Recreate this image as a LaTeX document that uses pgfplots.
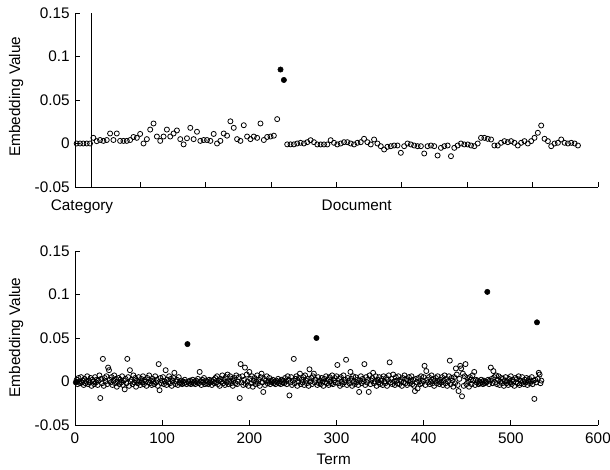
\documentclass[border=0pt]{standalone}
\usepackage{fontspec}
\setmainfont{Liberation Sans}
\usepackage{pgfplots}
\pgfplotsset{compat=1.18}

\pgfplotsset{
  panel/.style={
    scale only axis, width=392.25pt, height=130.5pt,
    axis lines*=left, axis line style={-,line width=0.6pt},
    tick align=inside, major tick length=3.75pt,
    tick style={black,line width=0.6pt},
    ymin=-0.05, ymax=0.15,
    ytick={-0.05,0,0.05,0.1,0.15},
    yticklabels={-0.05,0,0.05,0.1,0.15},
    ticklabel style={font=\fontsize{11.5}{13}\selectfont},
    clip=false,
  },
  opendot/.style={only marks, mark=o, mark size=1.9pt, mark options={line width=0.6pt, black}},
  fulldot/.style={only marks, mark=*, mark size=2pt, mark options={fill=black, draw=black}},
}

\begin{document}
\fontsize{11.5}{13}\selectfont
\begin{tikzpicture}
\useasboundingbox (0,0) rectangle (457.5pt,352.5pt);

% top panel: categories then documents
\begin{axis}[panel, at={(56.25pt,212.25pt)},
  xmin=0.5, xmax=157,
  xtick={0.5,20.0625,39.625,59.1875,78.75,98.3125,117.875,137.4375,157},
  xticklabels={,,,,,,,,}]
\addplot[black, line width=0.6pt] coordinates {(5.4,-0.05) (5.4,0.15)};
\addplot[opendot] coordinates {
(1,0) (2,0) (3,0) (4,0) (5,0)
(6,0.0065) (7,0.0027) (8,0.004) (9,0.003) (10,0.004) (11,0.0115) (12,0.004) (13,0.0115) (14,0.003) (15,0.003)
(16,0.003) (17,0.004) (18,0.0075) (19,0.0065) (20,0.011) (21,0.0) (22,0.005) (23,0.016) (24,0.023) (25,0.008)
(26,0.003) (27,0.008) (28,0.016) (29,0.008) (30,0.0115) (31,0.015) (32,0.005) (33,-0.001) (34,0.006) (35,0.018)
(36,0.005) (37,0.0135) (38,0.003) (39,0.004) (40,0.004) (41,0.003) (42,0.011) (43,0.0) (44,0.003) (45,0.0115)
(46,0.009) (47,0.0255) (48,0.018) (49,0.005) (50,0.003) (51,0.021) (52,0.008) (53,0.005) (54,0.008) (55,0.0065)
(56,0.023) (57,0.004) (58,0.0075) (59,0.008) (60,0.009) (61,0.028)
(64,-0.001) (65,-0.001) (66,-0.001) (67,0.0)
(68,0.0008) (69,0.0) (70,0.0015) (71,0.0038) (72,0.0015) (73,-0.0011) (74,-0.0011) (75,-0.0011) (76,-0.0011) (77,0.0038)
(78,0.0008) (79,-0.0011) (80,0.0) (81,0.0015) (82,0.0015) (83,0.0) (84,-0.0011) (85,0.0008) (86,0.0015) (87,0.0054)
(88,0.0015) (89,-0.0011) (90,0.0046) (91,0.0) (92,-0.0031) (93,-0.0069) (94,-0.0038) (95,-0.0031) (96,-0.0023) (97,-0.0023)
(98,-0.0107) (99,-0.0031) (100,0.0) (101,-0.0011) (102,-0.0023) (103,-0.0031) (104,-0.0031) (105,-0.0115) (106,-0.0031) (107,-0.0023)
(108,-0.0031) (109,-0.0138) (110,-0.005) (111,-0.0031) (112,-0.0023) (113,-0.0146) (114,-0.005) (115,-0.0023) (116,0.0) (117,-0.0011)
(118,-0.0011) (119,-0.0023) (120,-0.0031) (121,0.0) (122,0.0065) (123,0.0065) (124,0.0054) (125,0.0046) (126,-0.0023) (127,-0.0023)
(128,0.0008) (129,0.0027) (130,0.0015) (131,0.0027) (132,0.0008) (133,-0.0023) (134,0.0008) (135,0.0027) (136,0.0) (137,0.0027)
(138,0.0065) (139,0.0123) (140,0.0207) (141,0.0054) (142,0.0027) (143,-0.0031) (144,0.0) (145,0.0008) (146,0.0046) (147,0.0008)
(148,0.0) (149,0.0008) (150,0.0) (151,-0.0023)
};
\addplot[fulldot] coordinates {(62,0.085) (63,0.073)};
\end{axis}

% bottom panel: terms
\begin{axis}[panel, at={(56.25pt,33.75pt)},
  xmin=0, xmax=600,
  xtick={0,100,200,300,400,500,600},
  xticklabels={0,100,200,300,400,500,600},
  xticklabel style={yshift=-1.5pt}]
\addplot[opendot] coordinates {
(2,0.002) (3,-0.003) (4,0.004) (5,0.000) (6,-0.002) (7,0.005) (8,-0.001) (9,0.001) (10,-0.004)
(11,0.003) (12,-0.002) (13,0.000) (14,0.006) (15,-0.003) (16,0.001) (17,-0.001) (18,0.004) (19,-0.005) (20,0.002)
(21,0.000) (22,-0.003) (23,0.005) (24,-0.001) (25,0.002) (26,-0.004) (27,0.001) (28,0.007) (29,-0.019) (30,0.003)
(31,-0.002) (32,0.026) (33,-0.005) (34,0.004) (35,0.000) (36,0.006) (37,-0.003) (38,0.016) (39,0.013) (40,0.002)
(41,-0.001) (42,0.005) (43,-0.004) (44,0.001) (45,0.007) (46,-0.002) (47,0.003) (48,-0.006) (49,0.000) (50,0.004)
(51,-0.003) (52,0.002) (53,-0.001) (54,0.006) (55,-0.004) (56,0.001) (57,-0.009) (58,0.003) (59,-0.002) (60,0.026)
(61,0.005) (62,-0.005) (63,0.013) (64,0.000) (65,0.002) (66,-0.003) (67,0.007) (68,-0.001) (69,0.004) (70,-0.006)
(71,0.001) (72,-0.002) (73,0.005) (74,0.000) (75,-0.004) (76,0.003) (77,-0.001) (78,0.006) (79,-0.003) (80,0.002)
(81,0.000) (82,-0.005) (83,0.004) (84,-0.001) (85,0.007) (86,-0.002) (87,0.001) (88,-0.004) (89,0.003) (90,0.000)
(91,-0.003) (92,0.006) (93,-0.001) (94,0.002) (95,-0.005) (96,0.020) (97,-0.010) (98,0.004) (99,-0.002) (100,0.001)
(101,0.005) (102,-0.003) (103,0.000) (104,0.013) (105,-0.004) (106,0.002) (107,-0.001) (108,0.006) (109,-0.002) (110,0.003)
(111,-0.005) (112,0.001) (113,0.004) (114,0.010) (115,-0.003) (116,0.000) (117,0.002) (118,-0.004) (119,0.005) (120,-0.001)
(121,-0.002) (122,0.001) (123,-0.003) (124,0.000) (125,-0.002) (126,0.002) (127,-0.001) (128,-0.003) (130,0.000)
(131,-0.002) (132,0.001) (133,-0.003) (134,-0.001) (135,0.002) (136,-0.002) (137,0.000) (138,-0.003) (139,0.001) (140,-0.001)
(141,0.003) (142,-0.002) (143,0.011) (144,0.000) (145,-0.004) (146,0.002) (147,-0.001) (148,0.004) (149,-0.003) (150,0.001)
(151,-0.002) (152,0.000) (153,-0.003) (154,0.002) (155,-0.001) (156,0.001) (157,-0.004) (158,0.000) (159,0.002) (160,-0.002)
(161,0.004) (162,-0.001) (163,0.006) (164,-0.003) (165,0.001) (166,-0.005) (167,0.003) (168,0.000) (169,0.007) (170,-0.002)
(171,0.002) (172,-0.004) (173,0.005) (174,-0.001) (175,0.008) (176,-0.003) (177,0.000) (178,0.006) (179,-0.002) (180,0.003)
(181,-0.005) (182,0.001) (183,0.004) (184,-0.002) (185,0.007) (186,-0.003) (187,0.000) (188,0.005) (189,-0.019) (190,0.020)
(191,-0.001) (192,0.006) (193,-0.004) (194,0.002) (195,0.016) (196,-0.003) (197,0.008) (198,0.000) (199,-0.005) (200,0.011)
(201,0.003) (202,-0.002) (203,0.006) (204,-0.006) (205,0.001) (206,0.004) (207,-0.003) (208,0.000) (209,0.007) (210,-0.002)
(211,0.002) (212,-0.005) (213,0.005) (214,0.009) (215,-0.001) (216,-0.012) (217,0.003) (218,-0.004) (219,0.001) (220,0.006)
(221,-0.002) (222,0.000) (223,0.004) (224,-0.003) (225,0.001) (226,-0.001) (227,0.002) (228,-0.002) (229,0.000) (230,-0.003)
(231,0.001) (232,-0.001) (233,0.003) (234,-0.002) (235,0.000) (236,-0.003) (237,0.002) (238,-0.001) (239,0.001) (240,-0.002)
(241,0.004) (242,0.000) (243,-0.003) (244,0.006) (245,0.002) (246,-0.016) (247,-0.001) (248,0.005) (249,-0.004) (250,0.001)
(251,0.026) (252,-0.002) (253,0.003) (254,0.006) (255,-0.005) (256,0.000) (257,0.004) (258,0.009) (259,-0.003) (260,0.002)
(261,-0.001) (262,0.005) (263,-0.004) (264,0.007) (265,0.001) (266,-0.002) (267,0.003) (268,-0.005) (269,0.014) (270,0.000)
(271,0.004) (272,-0.003) (273,0.006) (274,0.009) (275,-0.001) (276,0.002) (278,-0.004) (279,0.005) (280,-0.002)
(281,0.001) (282,-0.003) (283,0.004) (284,0.000) (285,-0.005) (286,0.003) (287,-0.001) (288,0.006) (289,-0.002) (290,0.002)
(291,-0.004) (292,0.005) (293,0.000) (294,-0.002) (295,0.007) (296,-0.003) (297,0.001) (298,0.004) (299,-0.001) (300,0.006)
(301,0.019) (302,-0.002) (303,0.003) (304,-0.005) (305,0.005) (306,0.000) (307,-0.003) (308,0.007) (309,-0.001) (310,0.002)
(311,0.025) (312,-0.004) (313,0.004) (314,0.001) (315,-0.002) (316,0.011) (317,0.003) (318,-0.005) (319,0.006) (320,0.000)
(321,-0.003) (322,0.005) (323,-0.001) (324,0.002) (325,-0.004) (326,-0.012) (327,0.001) (328,0.006) (329,-0.002) (330,0.003)
(331,0.000) (332,0.020) (333,-0.004) (334,0.005) (335,-0.001) (336,0.002) (337,-0.012) (338,0.007) (339,-0.003) (340,0.001)
(341,0.004) (342,0.010) (343,-0.002) (344,0.000) (345,0.006) (346,-0.005) (347,0.002) (348,-0.001) (349,0.005) (350,-0.003)
(351,0.001) (352,0.003) (353,-0.004) (354,0.006) (355,0.000) (356,-0.002) (357,0.004) (358,-0.005) (359,0.002) (360,0.007)
(361,0.022) (362,-0.001) (363,0.003) (364,-0.003) (365,0.008) (366,0.000) (367,-0.004) (368,0.005) (369,0.001) (370,-0.002)
(371,0.006) (372,-0.003) (373,0.002) (374,0.000) (375,-0.005) (376,0.004) (377,-0.001) (378,0.007) (379,-0.002) (380,0.003)
(381,-0.004) (382,0.001) (383,0.005) (384,-0.002) (385,0.000) (386,0.006) (387,-0.003) (388,0.002) (389,-0.005) (390,-0.011)
(391,0.003) (392,-0.001) (393,-0.008) (394,0.004) (395,0.000) (396,-0.003) (397,0.006) (398,-0.002) (399,0.001) (400,0.005)
(401,0.018) (402,-0.004) (403,0.012) (404,0.002) (405,-0.001) (406,0.005) (407,-0.003) (408,0.000) (409,0.007) (410,-0.002)
(411,0.003) (412,-0.005) (413,0.001) (414,0.004) (415,-0.002) (416,0.006) (417,0.000) (418,-0.003) (419,0.002) (420,-0.001)
(421,0.005) (422,-0.004) (423,0.001) (424,0.007) (425,-0.002) (426,0.003) (427,-0.005) (428,0.000) (429,0.006) (430,0.024)
(431,-0.003) (432,0.004) (433,0.001) (434,-0.006) (435,0.005) (436,-0.002) (437,0.015) (438,0.008) (439,-0.004) (440,-0.011)
(441,0.003) (442,0.018) (443,0.015) (444,-0.017) (445,0.009) (446,-0.005) (447,0.006) (448,0.020) (449,-0.003) (450,0.004)
(451,0.000) (452,-0.006) (453,0.005) (454,0.002) (455,-0.003) (456,0.007) (457,0.001) (458,0.011) (459,-0.004) (460,0.002)
(461,-0.001) (462,0.001) (463,-0.003) (464,0.000) (465,-0.002) (466,0.002) (467,-0.001) (468,-0.003) (469,0.001) (470,-0.002)
(471,0.000) (472,-0.001) (474,0.002) (475,-0.003) (476,0.001) (477,0.016) (478,0.003) (479,-0.002) (480,0.012)
(481,0.005) (482,-0.001) (483,0.007) (484,-0.003) (485,0.002) (486,0.006) (487,-0.004) (488,0.000) (489,0.004) (490,-0.002)
(491,0.003) (492,-0.005) (493,0.001) (494,0.005) (495,-0.002) (496,0.000) (497,-0.004) (498,0.003) (499,-0.001) (500,0.006)
(501,-0.003) (502,0.002) (503,0.000) (504,-0.005) (505,0.004) (506,-0.001) (507,0.003) (508,-0.002) (509,0.006) (510,-0.004)
(511,0.001) (512,-0.002) (513,0.005) (514,0.000) (515,-0.003) (516,0.002) (517,-0.001) (518,0.004) (519,-0.004) (520,0.001)
(521,0.003) (522,-0.002) (523,0.000) (524,0.005) (525,-0.003) (526,0.001) (527,-0.020) (528,0.002) (529,-0.001)
(531,0.003) (532,0.010) (533,0.008) (534,-0.002) (535,0.001)
};
\addplot[fulldot] coordinates {(1,-0.001) (129,0.043) (277,0.050) (473,0.103) (530,0.068)};
\end{axis}

% labels
\node[anchor=base, font=\fontsize{11.5}{13}\selectfont] at (61.5pt,194.6pt) {Category};
\node[anchor=base, font=\fontsize{11.5}{13}\selectfont] at (267.5pt,194.6pt) {Document};
\node[anchor=base, font=\fontsize{11.5}{13}\selectfont] at (250.3pt,3.75pt) {Term};
\node[anchor=base, rotate=90, font=\fontsize{11.5}{13}\selectfont] at (15pt,280pt) {Embedding Value};
\node[anchor=base, rotate=90, font=\fontsize{11.5}{13}\selectfont] at (15pt,99.4pt) {Embedding Value};
\end{tikzpicture}
\end{document}
